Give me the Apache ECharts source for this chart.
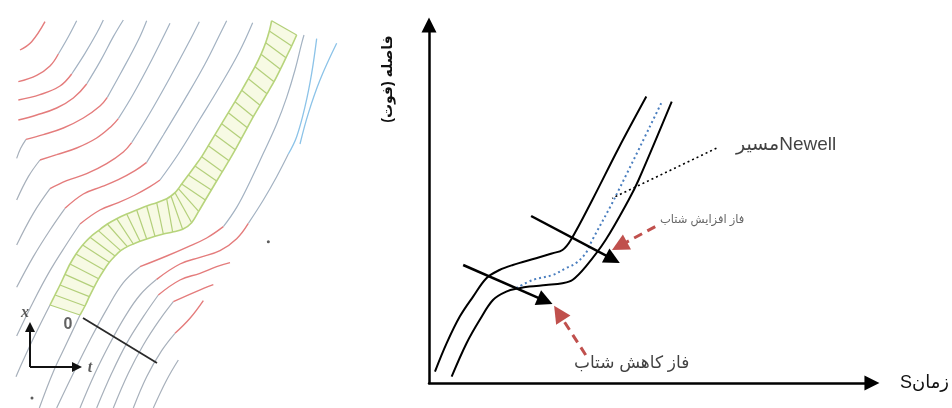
<!DOCTYPE html>
<html>
<head>
<meta charset="utf-8">
<script src="https://cdn.jsdelivr.net/npm/echarts/dist/echarts.min.js"></script>
<style>
  html, body { margin: 0; padding: 0; background: #ffffff; }
  #wrap { position: relative; width: 952px; height: 408px; overflow: hidden; background: #fff; }
  #traj { position: absolute; left: 0; top: 0; width: 360px; height: 408px; filter: blur(0.7px); }
  #sketch { position: absolute; left: 360px; top: 0; width: 592px; height: 408px; }
</style>
</head>
<body>
<div id="wrap"><div id="traj"></div><div id="sketch"></div></div>
<script>
// ---------- Left: observed vehicle trajectories, [time, position] ----------
// free-flow approach before the slowdown
const approachTracks = [
  [[5,74.9],[6.2,77.9],[7.8,80.6]],
  [[5,62.4],[8.5,69.4],[12,74.4]],
  [[5,48.9],[10,58.4],[15,65.8]],
  [[5,36.2],[10,45.4],[15,53.4],[19.5,59.9]],
  [[5,21.6],[10,31.9],[15,41.2],[20,49.2],[24,55.2]],
  [[4.8,9.4],[7,14.4],[10.5,21.9],[15,30.9]],
  [[11.8,0],[16,10.9],[20,19.4],[24,27.9]],
  [[17,0],[22,10.4],[27,20.4],[32,29.6],[37,37.6],[42,42.4]],
  [[24,0],[28.5,10.4],[33,19.4],[37.5,27.4],[42,33.9],[47,38.6]],
  [[29,0],[33.5,10.4],[38,19.4],[43,27.4],[47.5,33.9]],
  [[34,0],[38.5,10.4],[43,18.9],[48,26.6],[52,31.9]],
  [[40,0],[44,9.4],[48.5,17.2],[52.5,22.4]],
  [[46,0],[50,8.4],[53.5,14.4]]
];
// slow part inside the stop-and-go wave
const queueTracks = [
  [[6,107.4],[9.5,109.9],[13.5,115.9]],
  [[5.5,97.9],[11,99.8],[15,102.6],[17.5,106.2]],
  [[5.5,92.4],[12,94],[18,96.6],[21.5,100.2]],
  [[5.5,86.4],[11,87.9],[17,90],[22,93],[26,97.2]],
  [[7.8,80.6],[13,82],[19,84],[25,87],[30,90.6],[32.2,93.2]],
  [[12,74.4],[17,76],[23,78],[29,81],[33.5,84.6],[35.5,86.8]],
  [[15,65.8],[20,68.2],[26,70.3],[32,73.3],[37,76.8],[39.5,79.6]],
  [[19.5,59.9],[25,64.2],[30.5,66.4],[35.5,68.5],[40.5,71.2],[44,73.7]],
  [[24,55.2],[30,59.4],[35.5,61.6],[40.5,63.9],[45,66.4],[48,68.4]],
  [[42,42.4],[50,45.6],[56,48.2],[62,51],[67,54.4]],
  [[47,38.6],[54,43.2],[60,45.2],[66,47.2],[71,50.8],[74.5,55.4]],
  [[47.5,33.9],[54,38.4],[60,40.4],[65,42.4],[69,43.6]],
  [[52,31.9],[59,35],[64,37]],
  [[52.5,22.4],[57,26.9],[61,32.2]]
];
// recovery after leaving the wave
const releaseTracks = [
  [[17.5,106.2],[20.5,111.4],[23,116.2]],
  [[21.5,100.2],[25.5,106.4],[29,112.4],[31,116.4]],
  [[26,97.2],[30,103.9],[34,111.4],[37,116.4]],
  [[32.2,93.2],[36.2,100.4],[41.5,110.4],[44,116.2]],
  [[35.5,86.8],[40,94.2],[45.5,104.4],[51,115.4]],
  [[39.5,79.6],[44.8,88.2],[50.8,98.8],[56.5,109.4],[59.8,115.9]],
  [[44,73.7],[49,81.9],[55.2,92.2],[61.5,103.2],[66.5,113.2],[68,116.2]],
  [[48,68.4],[53.5,76.2],[59.8,86.4],[66,96.6],[71.8,106.9],[75.8,115.6]],
  [[67,54.4],[71,60.2],[75,67.9],[79,76.4],[83,85.2],[86,93.2],[88.5,101.4],[90.5,109.4],[91.2,111.9]],
  [[74.5,55.4],[79,62.4],[83,69.4],[86.5,76.2]]
];
// high speed
const fastTracks = [
  [[86.5,76.2],[89,81.4],[91.5,90.4],[93.5,100.4],[95,110.8]],
  [[90,79.2],[92.5,88.4],[96,98.4],[101,109.4]]
];
// highlighted platoon: front and rear edge, sampled at matching points
const platoonFront = [
  [15,30.9],[16.5,33.9],[18,36.9],[19.5,40.1],[21,43.2],[22.8,46.2],[24.8,48.9],[27,51.2],
  [29.5,53.2],[32.2,55.2],[35,56.8],[38,58.2],[41,59.4],[44,60.6],[47,61.6],[50,62.8],
  [51.3,63.6],[52.5,64.6],[53.5,65.8],[54.5,67.2],[56.5,69.9],[58.5,72.6],[60.5,75.4],[62.5,78.7],
  [64.5,82],[66.5,85.3],[68.5,88.6],[70.5,91.9],[72.5,95.3],[74.5,98.8],[76.5,102.4],[78.3,106.1],
  [79.7,109.6],[80.8,113.1],[81.5,116.2]
];
const platoonRear = [
  [24,27.9],[25.5,30.6],[26.8,33.4],[28.2,36.2],[29.6,38.8],[31.2,41.4],[32.8,43.7],[34.5,45.6],
  [36.2,47.2],[38.2,48.4],[40,49.2],[42,50],[44,50.7],[46.5,51.5],[49,52.2],[51.8,52.8],
  [54.8,53.6],[57.5,55.6],[59.6,59],[61.6,62.4],[63.4,65.4],[65,68.1],[66.7,70.9],[68.7,74.2],
  [70.6,77.5],[72.4,80.8],[74.2,84.1],[76,87.4],[78,90.8],[80.1,94.3],[82.2,97.9],[84.1,101.6],
  [85.8,105.1],[87.5,108.6],[89,111.9]
];
const refLine = [[24.9,27],[47.1,13.5]];
const axisOrigin = [9,12.3], axisUpEnd = [9,24.3], axisRightEnd = [23.1,12.3];
const trajNotes = [
  { at: [20.4,24.9], text: '0', italic: false },
  { at: [7.5,28.5], text: 'x', italic: true },
  { at: [27,12], text: 't', italic: true }
];
const specks = [[9.6,3],[80.5,49.9]];

// ---------- Right: schematic of the Newell trajectory ----------
const leaderPath = [[3,5.7],[8.9,19.9],[15.5,33.2],[22.2,43.2],[28.9,52.4],[35.5,56.5],[42.2,59],
  [53.9,62.4],[62.2,64.9],[67.2,66.5],[71.4,71.5],[82.2,91.5],[95.5,117.5],[109.4,143.2]];
const followerPath = [[11.4,3.2],[18.9,19.9],[25.5,31.5],[32.2,41.5],[38.9,45.7],[45.5,47.4],[50.5,48.2],
  [58.9,49],[67.2,49.9],[72.2,51.5],[78.9,58.2],[88.9,71.5],[100.5,91.5],[105.5,101.5],[122.2,140.7]];
const newellPath = [[43.9,47.4],[52.2,51.5],[62.2,54],[68.9,57.4],[73.9,59.9],[78.9,64.9],[82.2,71.5],
  [93,91.5],[116.9,139.9]];
const waveArrows = [[[51.4,83.5],[92.5,61.9]], [[17.2,59],[58.5,41.1]]];
const phasePointers = [[[113.9,78.2],[95.9,68.5]], [[78.9,14],[65.3,35]]];
const newellPointer = [[144.7,117.4],[92.2,92.4]];
const sketchNotes = [
  { at: [154.5,119], text: 'مسیرNewell', size: 19, color: '#111', pos: 'right' },
  { at: [137.5,81.5], text: 'فاز افزایش شتاب', size: 11.5, color: '#404040', pos: 'inside' },
  { at: [102,10], text: 'فاز کاهش شتاب', size: 17, color: '#111', pos: 'inside' }
];
const timeLabel = 'Sزمان';
const distanceLabel = 'فاصله (فوت)';

const FONT = "'Liberation Sans', 'DejaVu Sans', sans-serif";

function trackSeries(list, color, width) {
  return list.map(pts => ({
    type: 'line', data: pts, smooth: 0.4, symbol: 'none', silent: true, z: 2,
    lineStyle: { color: color, width: width }
  }));
}

const trajChart = echarts.init(document.getElementById('traj'), null, { renderer: 'canvas' });
trajChart.setOption({
  animation: false,
  grid: { left: 0, top: 0, width: 360, height: 408 },
  xAxis: { type: 'value', min: 0, max: 108, show: false },
  yAxis: { type: 'value', min: 0, max: 122.4, show: false },
  series: [
    {
      type: 'custom', silent: true, z: 1, data: [[0, 0]],
      renderItem: function (params, api) {
        const pts = platoonFront.map(p => api.coord(p))
          .concat(platoonRear.slice().reverse().map(p => api.coord(p)));
        return { type: 'polygon', shape: { points: pts }, style: { fill: '#f7fae4' } };
      }
    },
    ...trackSeries(approachTracks, '#a7b0bb', 1.2),
    ...trackSeries(queueTracks, '#e47c7c', 1.4),
    ...trackSeries(releaseTracks, '#a3b2c2', 1.2),
    ...trackSeries(fastTracks, '#8cc3e8', 1.3),
    {
      type: 'lines', coordinateSystem: 'cartesian2d', silent: true, z: 3,
      data: platoonFront.map((p, i) => ({ coords: [p, platoonRear[i]] })),
      lineStyle: { color: '#b3cf7a', width: 1.2, opacity: 1 }
    },
    { type: 'line', data: platoonFront, smooth: 0.3, symbol: 'none', silent: true, z: 4,
      lineStyle: { color: '#b7d47c', width: 1.6 } },
    { type: 'line', data: platoonRear, smooth: 0.3, symbol: 'none', silent: true, z: 4,
      lineStyle: { color: '#b7d47c', width: 1.6 } },
    { type: 'line', data: refLine, symbol: 'none', silent: true, z: 5,
      lineStyle: { color: '#2a2a2a', width: 1.8 } },
    {
      type: 'lines', coordinateSystem: 'cartesian2d', silent: true, z: 5,
      symbol: ['none', 'triangle'], symbolSize: 10,
      data: [{ coords: [axisOrigin, axisUpEnd] }, { coords: [axisOrigin, axisRightEnd] }],
      lineStyle: { color: '#111', width: 2, opacity: 1 }
    },
    {
      type: 'scatter', symbolSize: 0, silent: true, z: 6,
      data: trajNotes.map(n => ({
        value: n.at, name: n.text,
        label: n.italic
          ? { fontStyle: 'italic', fontFamily: "'Liberation Serif', serif", fontSize: 16, color: '#333' }
          : { fontStyle: 'normal', fontFamily: "'Liberation Sans', sans-serif", fontSize: 16, color: '#3a3a3a' }
      })),
      label: { show: true, position: 'inside', formatter: p => p.name, fontWeight: 'bold' }
    },
    { type: 'scatter', data: specks, symbolSize: 3, silent: true, z: 6, itemStyle: { color: '#333' } }
  ]
});

const sketchChart = echarts.init(document.getElementById('sketch'), null, { renderer: 'canvas' });
sketchChart.setOption({
  animation: false,
  textStyle: { fontFamily: FONT },
  grid: { left: 69, top: 25, right: 77, bottom: 25 },
  xAxis: {
    type: 'value', min: 0, max: 223,
    name: timeLabel, nameLocation: 'end', nameGap: 28,
    nameTextStyle: { fontSize: 18, color: '#111', fontFamily: FONT },
    axisLine: { show: true, symbol: ['none', 'triangle'], symbolSize: [15, 15],
      lineStyle: { color: '#000', width: 2.5 } },
    axisTick: { show: false }, axisLabel: { show: false }, splitLine: { show: false }
  },
  yAxis: {
    type: 'value', min: 0, max: 179,
    axisLine: { show: true, symbol: ['none', 'triangle'], symbolSize: [15, 15],
      lineStyle: { color: '#000', width: 2.5 } },
    axisTick: { show: false }, axisLabel: { show: false }, splitLine: { show: false }
  },
  graphic: [{
    type: 'text', x: 28, y: 79, rotation: Math.PI / 2, silent: true,
    style: { text: distanceLabel, font: 'bold 14px ' + FONT, fill: '#111',
      textAlign: 'center', textVerticalAlign: 'middle', align: 'center', verticalAlign: 'middle' }
  }],
  series: [
    { type: 'line', data: leaderPath, smooth: 0.35, symbol: 'none', silent: true,
      lineStyle: { color: '#000', width: 2 } },
    { type: 'line', data: followerPath, smooth: 0.35, symbol: 'none', silent: true,
      lineStyle: { color: '#000', width: 2 } },
    { type: 'line', data: newellPath, smooth: 0.35, symbol: 'none', silent: true,
      lineStyle: { color: '#4a7ebf', width: 2, type: [2, 3] } },
    { type: 'line', data: newellPointer, symbol: 'none', silent: true,
      lineStyle: { color: '#000', width: 1.6, type: [2, 3] } },
    {
      type: 'lines', coordinateSystem: 'cartesian2d', silent: true, z: 4,
      symbol: ['none', 'triangle'], symbolSize: 16,
      data: waveArrows.map(c => ({ coords: c })),
      lineStyle: { color: '#000', width: 2.5, opacity: 1 }
    },
    {
      type: 'lines', coordinateSystem: 'cartesian2d', silent: true, z: 4,
      symbol: ['none', 'triangle'], symbolSize: 17,
      data: phasePointers.map(c => ({ coords: c })),
      lineStyle: { color: '#c0504d', width: 3, type: [9, 6], opacity: 1 }
    },
    {
      type: 'scatter', symbolSize: 0, silent: true, z: 5,
      data: sketchNotes.map(n => ({
        value: n.at, name: n.text,
        label: { show: true, position: n.pos, distance: 0, formatter: n.text,
          fontSize: n.size, color: n.color, fontFamily: FONT }
      }))
    }
  ]
});
</script>
</body>
</html>
